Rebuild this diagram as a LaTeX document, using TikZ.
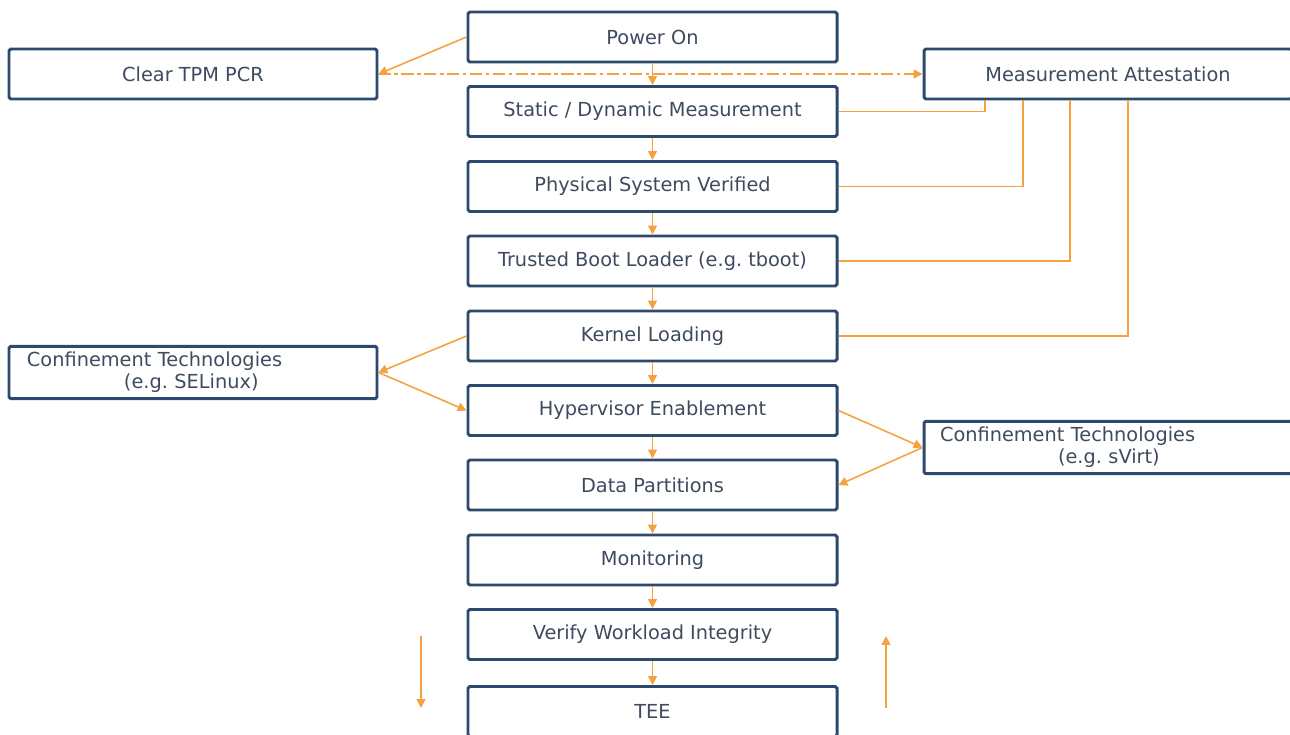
\documentclass[tikz,border=0pt]{standalone}
\usepackage{fontspec}
\setmainfont{DejaVu Sans}
\usetikzlibrary{arrows.meta}
\definecolor{boxline}{HTML}{2C4A6E}
\definecolor{boxtext}{HTML}{3E4B5E}
\definecolor{flow}{HTML}{F4A23F}
\tikzset{
  stage/.style={draw=boxline, line width=1.7pt, rounded corners=1pt, minimum width=7.38cm,
    minimum height=1cm, text=boxtext, font=\fontsize{11}{12.5}\selectfont},
  side/.style={stage, minimum width=7.36cm},
  note/.style={side, align=left, inner xsep=0.36cm, text width=6.64cm},
  link/.style={draw=flow, line width=0.9pt},
  arr/.style={link, -{Triangle[width=5pt,length=5pt]}},
}
\frenchspacing

\begin{document}
\begin{tikzpicture}
\useasboundingbox (0,0) rectangle (25.8,14.68);
% boot chain, top to bottom
\node[stage] (pon) at (13.05,13.94) {Power On};
\node[stage] (static) at (13.05,12.45) {Static / Dynamic Measurement};
\node[stage] (phys) at (13.05,10.95) {Physical System Verified};
\node[stage] (boot) at (13.05,9.46) {Trusted Boot Loader (e.g. tboot)};
\node[stage] (kern) at (13.05,7.96) {Kernel Loading};
\node[stage] (hyp) at (13.05,6.47) {Hypervisor Enablement};
\node[stage] (data) at (13.05,4.98) {Data Partitions};
\node[stage] (mon) at (13.05,3.48) {Monitoring};
\node[stage] (vwi) at (13.05,1.99) {Verify Workload Integrity};
\node[stage] (tee) at (13.05,0.45) {TEE};
% side boxes
\node[side] (tpm) at (3.86,13.2) {Clear TPM PCR};
\node[side] (ma) at (22.16,13.2) {Measurement Attestation};
\node[note] (sel) at (3.86,7.23) {Confinement Technologies\\\hspace*{1.94cm}(e.g. SELinux)};
\node[note, inner xsep=0.32cm, text width=6.72cm] (svirt) at (22.16,5.73) {Confinement Technologies\\\hspace*{2.36cm}(e.g. sVirt)};

\foreach \a/\b in {pon/static, static/phys, phys/boot, boot/kern, kern/hyp, hyp/data, data/mon, mon/vwi, vwi/tee}
  \draw[arr] (\a) -- (\b);

\draw[arr] (pon.west) -- (tpm.east);
\draw[arr, dash pattern=on 7pt off 2pt on 2pt off 2pt] (tpm.east) -- (ma.west);

% reports to the attestation box
\draw[link] (static.east) -| ([xshift=-2.46cm]ma.south);
\draw[link] (phys.east) -| ([xshift=-1.7cm]ma.south);
\draw[link] (boot.east) -| ([xshift=-0.76cm]ma.south);
\draw[link] (kern.east) -| ([xshift=0.4cm]ma.south);

\draw[arr] (kern.west) -- (sel.east);
\draw[arr] (sel.east) -- (hyp.west);
\draw[arr] (hyp.east) -- (svirt.west);
\draw[arr] (svirt.west) -- (data.east);

% loose arrows at the bottom
\coordinate (dnA) at (8.42,1.96);
\coordinate (dnB) at (8.42,0.52);
\coordinate (upA) at (17.72,0.52);
\coordinate (upB) at (17.72,1.96);
\draw[arr] (dnA) -- (dnB);
\draw[arr] (upA) -- (upB);
\end{tikzpicture}
\end{document}
